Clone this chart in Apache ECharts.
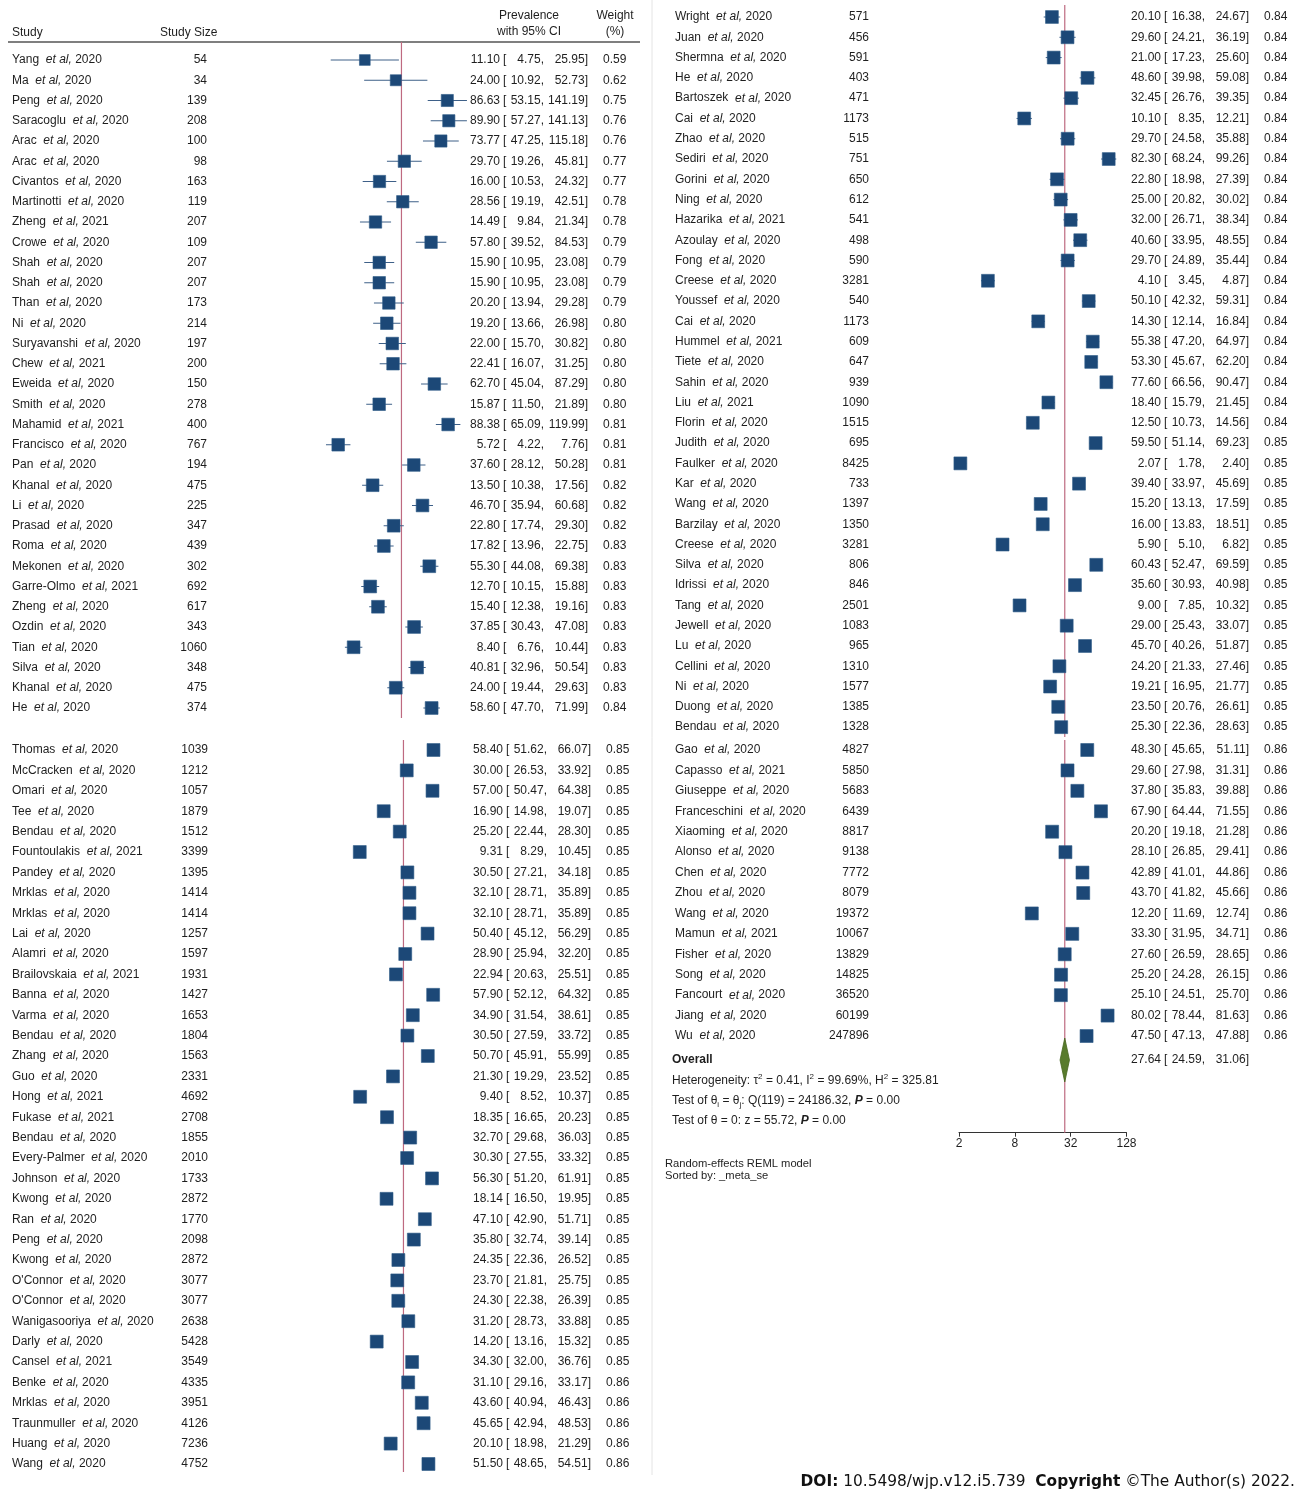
<!DOCTYPE html>
<html><head><meta charset="utf-8">
<script src="https://cdn.jsdelivr.net/npm/echarts@6/dist/echarts.min.js"></script>
<style>html,body{margin:0;padding:0;background:#fff}#c{width:1304px;height:1490px}</style>
</head><body><div id="c"></div>
<script>
// ---------------- DATA ----------------
const authors = [
 "Yang","Ma","Peng","Saracoglu","Arac","Arac","Civantos","Martinotti","Zheng","Crowe","Shah","Shah","Than","Ni","Suryavanshi","Chew","Eweida","Smith","Mahamid","Francisco","Pan","Khanal","Li","Prasad","Roma","Mekonen","Garre-Olmo","Zheng","Ozdin","Tian","Silva","Khanal","He",
 "Thomas","McCracken","Omari","Tee","Bendau","Fountoulakis","Pandey","Mrklas","Mrklas","Lai","Alamri","Brailovskaia","Banna","Varma","Bendau","Zhang","Guo","Hong","Fukase","Bendau","Every-Palmer","Johnson","Kwong","Ran","Peng","Kwong","O'Connor","O'Connor","Wanigasooriya","Darly","Cansel","Benke","Mrklas","Traunmuller","Huang","Wang",
 "Wright","Juan","Shermna","He","Bartoszek","Cai","Zhao","Sediri","Gorini","Ning","Hazarika","Azoulay","Fong","Creese","Youssef","Cai","Hummel","Tiete","Sahin","Liu","Florin","Judith","Faulker","Kar","Wang","Barzilay","Creese","Silva","Idrissi","Tang","Jewell","Lu","Cellini","Ni","Duong","Bendau",
 "Gao","Capasso","Giuseppe","Franceschini","Xiaoming","Alonso","Chen","Zhou","Wang","Mamun","Fisher","Song","Fancourt","Jiang","Wu"
];
const years = [
 2020,2020,2020,2020,2020,2020,2020,2020,2021,2020,2020,2020,2020,2020,2020,2021,2020,2020,2021,2020,2020,2020,2020,2020,2020,2020,2021,2020,2020,2020,2020,2020,2020,
 2020,2020,2020,2020,2020,2021,2020,2020,2020,2020,2020,2021,2020,2020,2020,2020,2020,2021,2021,2020,2020,2020,2020,2020,2020,2020,2020,2020,2020,2020,2021,2020,2020,2020,2020,2020,
 2020,2020,2020,2020,2020,2020,2020,2020,2020,2020,2021,2020,2020,2020,2020,2020,2021,2020,2020,2021,2020,2020,2020,2020,2020,2020,2020,2020,2020,2020,2020,2020,2020,2020,2020,2020,
 2020,2021,2020,2020,2020,2020,2020,2020,2020,2021,2020,2020,2020,2020,2020
];
const studySizes = [
 54,34,139,208,100,98,163,119,207,109,207,207,173,214,197,200,150,278,400,767,194,475,225,347,439,302,692,617,343,1060,348,475,374,
 1039,1212,1057,1879,1512,3399,1395,1414,1414,1257,1597,1931,1427,1653,1804,1563,2331,4692,2708,1855,2010,1733,2872,1770,2098,2872,3077,3077,2638,5428,3549,4335,3951,4126,7236,4752,
 571,456,591,403,471,1173,515,751,650,612,541,498,590,3281,540,1173,609,647,939,1090,1515,695,8425,733,1397,1350,3281,806,846,2501,1083,965,1310,1577,1385,1328,
 4827,5850,5683,6439,8817,9138,7772,8079,19372,10067,13829,14825,36520,60199,247896
];
const estimates = [
 11.10,24.00,86.63,89.90,73.77,29.70,16.00,28.56,14.49,57.80,15.90,15.90,20.20,19.20,22.00,22.41,62.70,15.87,88.38,5.72,37.60,13.50,46.70,22.80,17.82,55.30,12.70,15.40,37.85,8.40,40.81,24.00,58.60,
 58.40,30.00,57.00,16.90,25.20,9.31,30.50,32.10,32.10,50.40,28.90,22.94,57.90,34.90,30.50,50.70,21.30,9.40,18.35,32.70,30.30,56.30,18.14,47.10,35.80,24.35,23.70,24.30,31.20,14.20,34.30,31.10,43.60,45.65,20.10,51.50,
 20.10,29.60,21.00,48.60,32.45,10.10,29.70,82.30,22.80,25.00,32.00,40.60,29.70,4.10,50.10,14.30,55.38,53.30,77.60,18.40,12.50,59.50,2.07,39.40,15.20,16.00,5.90,60.43,35.60,9.00,29.00,45.70,24.20,19.21,23.50,25.30,
 48.30,29.60,37.80,67.90,20.20,28.10,42.89,43.70,12.20,33.30,27.60,25.20,25.10,80.02,47.50
];
const ciLow = [
 4.75,10.92,53.15,57.27,47.25,19.26,10.53,19.19,9.84,39.52,10.95,10.95,13.94,13.66,15.70,16.07,45.04,11.50,65.09,4.22,28.12,10.38,35.94,17.74,13.96,44.08,10.15,12.38,30.43,6.76,32.96,19.44,47.70,
 51.62,26.53,50.47,14.98,22.44,8.29,27.21,28.71,28.71,45.12,25.94,20.63,52.12,31.54,27.59,45.91,19.29,8.52,16.65,29.68,27.55,51.20,16.50,42.90,32.74,22.36,21.81,22.38,28.73,13.16,32.00,29.16,40.94,42.94,18.98,48.65,
 16.38,24.21,17.23,39.98,26.76,8.35,24.58,68.24,18.98,20.82,26.71,33.95,24.89,3.45,42.32,12.14,47.20,45.67,66.56,15.79,10.73,51.14,1.78,33.97,13.13,13.83,5.10,52.47,30.93,7.85,25.43,40.26,21.33,16.95,20.76,22.36,
 45.65,27.98,35.83,64.44,19.18,26.85,41.01,41.82,11.69,31.95,26.59,24.28,24.51,78.44,47.13
];
const ciHigh = [
 25.95,52.73,141.19,141.13,115.18,45.81,24.32,42.51,21.34,84.53,23.08,23.08,29.28,26.98,30.82,31.25,87.29,21.89,119.99,7.76,50.28,17.56,60.68,29.30,22.75,69.38,15.88,19.16,47.08,10.44,50.54,29.63,71.99,
 66.07,33.92,64.38,19.07,28.30,10.45,34.18,35.89,35.89,56.29,32.20,25.51,64.32,38.61,33.72,55.99,23.52,10.37,20.23,36.03,33.32,61.91,19.95,51.71,39.14,26.52,25.75,26.39,33.88,15.32,36.76,33.17,46.43,48.53,21.29,54.51,
 24.67,36.19,25.60,59.08,39.35,12.21,35.88,99.26,27.39,30.02,38.34,48.55,35.44,4.87,59.31,16.84,64.97,62.20,90.47,21.45,14.56,69.23,2.40,45.69,17.59,18.51,6.82,69.59,40.98,10.32,33.07,51.87,27.46,21.77,26.61,28.63,
 51.11,31.31,39.88,71.55,21.28,29.41,44.86,45.66,12.74,34.71,28.65,26.15,25.70,81.63,47.88
];
const weights = [
 0.59,0.62,0.75,0.76,0.76,0.77,0.77,0.78,0.78,0.79,0.79,0.79,0.79,0.80,0.80,0.80,0.80,0.80,0.81,0.81,0.81,0.82,0.82,0.82,0.83,0.83,0.83,0.83,0.83,0.83,0.83,0.83,0.84,
 0.85,0.85,0.85,0.85,0.85,0.85,0.85,0.85,0.85,0.85,0.85,0.85,0.85,0.85,0.85,0.85,0.85,0.85,0.85,0.85,0.85,0.85,0.85,0.85,0.85,0.85,0.85,0.85,0.85,0.85,0.85,0.86,0.86,0.86,0.86,0.86,
 0.84,0.84,0.84,0.84,0.84,0.84,0.84,0.84,0.84,0.84,0.84,0.84,0.84,0.84,0.84,0.84,0.84,0.84,0.84,0.84,0.84,0.85,0.85,0.85,0.85,0.85,0.85,0.85,0.85,0.85,0.85,0.85,0.85,0.85,0.85,0.85,
 0.86,0.86,0.86,0.86,0.86,0.86,0.86,0.86,0.86,0.86,0.86,0.86,0.86,0.86,0.86
];
const sectionCounts = [33, 36, 36, 15];
const overallEst = 27.64, overallLow = 24.59, overallHigh = 31.06;
const xTicks = [2, 8, 32, 128];

// ---------------- LAYOUT ----------------
const FONT = '"Liberation Sans", Arial, Helvetica, sans-serif';
const TXT = '#1e1e1e';
const NUM_FS = 12;
const layout = [
 {plotLeft:296, plotWidth:167, top:42,  bottom:718,    row0:60,  gap:20.25, nameX:12,  sizeX:207, estX:500,  brX:503,  lowX:544,  highX:588,  wX:603},
 {plotLeft:298, plotWidth:167, top:740, bottom:1472,   row0:750, gap:20.4,  nameX:12,  sizeX:208, estX:503,  brX:506,  lowX:547,  highX:591,  wX:606},
 {plotLeft:959, plotWidth:167.5, top:5, bottom:737,    row0:17,  gap:20.29, nameX:675, sizeX:869, estX:1161, brX:1164, lowX:1205, highX:1249, wX:1264},
 {plotLeft:959, plotWidth:167.5, top:740, bottom:1132.7, row0:750, gap:20.43, nameX:675, sizeX:869, estX:1161, brX:1164, lowX:1205, highX:1249, wX:1264}
];
const overallY = 1060;

const chart = echarts.init(document.getElementById('c'), null, {renderer:'canvas'});
const base = {fontFamily: FONT, fontSize: 12, fill: TXT, verticalAlign: 'middle'};
const numBase = {fontFamily: FONT, fontSize: NUM_FS, fill: TXT, verticalAlign: 'middle'};

function marks(params, api) {
  const c = api.coord([api.value(0), api.value(1)]);
  const l = api.coord([api.value(2), api.value(1)]);
  const h = api.coord([api.value(3), api.value(1)]);
  const side = 14 * Math.sqrt(api.value(4));
  return {type:'group', children:[
    {type:'line', shape:{x1:l[0], y1:c[1], x2:h[0], y2:c[1]}, style:{stroke:'#3e6088', lineWidth:1}},
    {type:'rect', shape:{x:c[0]-side/2, y:c[1]-side/2, width:side, height:side}, style:{fill:'#1c4877', stroke:'#2d5a87', lineWidth:0.6}}
  ]};
}
function esciTexts(L, y, e, lo, hi) {
  return [
    {type:'text', x:L.estX, y:y, style:Object.assign({}, numBase, {align:'right', text:e.toFixed(2)})},
    {type:'text', x:L.brX, y:y, style:Object.assign({}, numBase, {align:'left', text:'['})},
    {type:'text', x:L.lowX, y:y, style:Object.assign({}, numBase, {align:'right', text:lo.toFixed(2) + ','})},
    {type:'text', x:L.highX, y:y, style:Object.assign({}, numBase, {align:'right', text:hi.toFixed(2) + ']'})}
  ];
}
function texts(L) {
  return function(params, api) {
    const i = api.value(5);
    const y = api.coord([api.value(0), api.value(1)])[1];
    return {type:'group', children:[
      {type:'text', x:L.nameX, y:y, style:Object.assign({}, base, {align:'left',
        text:'{n|' + authors[i] + '  }{it|et al,}{n| ' + years[i] + '}',
        rich:{n:{fontFamily:FONT, fontSize:12, fill:TXT}, it:{fontFamily:FONT, fontSize:12, fontStyle:'italic', fill:TXT}}})},
      {type:'text', x:L.sizeX, y:y, style:Object.assign({}, base, {align:'right', text:String(studySizes[i])})}
    ].concat(esciTexts(L, y, estimates[i], ciLow[i], ciHigh[i])).concat([
      {type:'text', x:L.wX, y:y, style:Object.assign({}, numBase, {align:'left', text:weights[i].toFixed(2)})}
    ])};
  };
}

const grids = [], xAxes = [], yAxes = [], series = [];
let start = 0;
layout.forEach(function(L, s) {
  const n = sectionCounts[s];
  const yMin = (L.top - L.row0) / L.gap, yMax = (L.bottom - L.row0) / L.gap;
  grids.push({left:L.plotLeft, top:L.top, width:L.plotWidth, height:L.bottom - L.top});
  const showAx = (s === 3);
  xAxes.push({gridIndex:s, type:'log', logBase:2, min:2, max:128, show:showAx, position:'bottom',
    axisLine:{show:true, onZero:false, lineStyle:{color:'#333', width:1}},
    axisTick:{show:true, length:4, customValues:xTicks, lineStyle:{color:'#333'}},
    axisLabel:{show:true, customValues:xTicks, color:TXT, fontSize:12, fontFamily:FONT, margin:5,
      formatter:function(v){return String(Math.round(v));}},
    splitLine:{show:false}, minorTick:{show:false}});
  yAxes.push({gridIndex:s, type:'value', inverse:true, min:yMin, max:yMax, show:false, splitLine:{show:false}});
  const rows = [];
  for (let k = 0; k < n; k++) {
    const i = start + k;
    rows.push([estimates[i], k, ciLow[i], ciHigh[i], weights[i], i]);
  }
  series.push({type:'custom', xAxisIndex:s, yAxisIndex:s, z:1, silent:true, data:[[overallEst, yMin, yMax]],
    encode:{x:0, y:1},
    renderItem:function(p, api){
      const a = api.coord([api.value(0), api.value(1)]);
      const b = api.coord([api.value(0), api.value(2)]);
      return {type:'line', shape:{x1:a[0], y1:a[1], x2:b[0], y2:b[1]}, style:{stroke:'#be6a80', lineWidth:1.2}};
    }});
  series.push({type:'custom', xAxisIndex:s, yAxisIndex:s, z:3, silent:true, data:rows, encode:{x:0, y:1}, renderItem:marks});
  series.push({type:'custom', xAxisIndex:s, yAxisIndex:s, z:4, silent:true, data:rows, encode:{x:0, y:1}, renderItem:texts(L)});
  if (s === 3) {
    const oRow = (overallY - L.row0) / L.gap;
    series.push({type:'custom', xAxisIndex:s, yAxisIndex:s, z:5, silent:true,
      data:[[overallEst, oRow, overallLow, overallHigh]], encode:{x:0, y:1},
      renderItem:function(p, api){
        const c = api.coord([api.value(0), api.value(1)]);
        const l = api.coord([api.value(2), api.value(1)]);
        const h = api.coord([api.value(3), api.value(1)]);
        const hh = 22;
        return {type:'group', children:[
          {type:'polygon', shape:{points:[[l[0], c[1]], [c[0], c[1]-hh], [h[0], c[1]], [c[0], c[1]+hh]]},
            style:{fill:'#587b2c', stroke:'#46661f', lineWidth:0.8}},
          {type:'text', x:672, y:c[1], style:Object.assign({}, base, {align:'left', text:'Overall', fontWeight:'bold'})}
        ].concat(esciTexts(L, c[1], overallEst, overallLow, overallHigh))};
      }});
  }
  start += n;
});

function gtext(x, y, text, extra) {
  return {type:'text', x:x, y:y, silent:true, style:Object.assign({}, base, extra || {}, {text:text})};
}
const richStats = {
  n:{fontFamily:FONT, fontSize:12, fill:TXT, lineHeight:16},
  sup:{fontFamily:FONT, fontSize:8, fill:TXT, verticalAlign:'top', lineHeight:16},
  sub:{fontFamily:FONT, fontSize:8, fill:TXT, verticalAlign:'bottom', lineHeight:16},
  bi:{fontFamily:FONT, fontSize:12, fill:TXT, fontWeight:'bold', fontStyle:'italic', lineHeight:16}
};
const graphic = [
  {type:'line', silent:true, shape:{x1:652, y1:0, x2:652, y2:1475}, style:{stroke:'#e4e4e4', lineWidth:1}},
  {type:'line', silent:true, shape:{x1:8, y1:42, x2:640, y2:42}, style:{stroke:'#555', lineWidth:1.5}},
  gtext(12, 33, 'Study', {align:'left'}),
  gtext(160, 33, 'Study Size', {align:'left'}),
  gtext(529, 16, 'Prevalence', {align:'center'}),
  gtext(529, 32, 'with 95% CI', {align:'center'}),
  gtext(615, 16, 'Weight', {align:'center'}),
  gtext(615, 32, '(%)', {align:'center'}),
  gtext(672, 1081, '{n|Heterogeneity: τ}{sup|2}{n| = 0.41, I}{sup|2}{n| = 99.69%, H}{sup|2}{n| = 325.81}', {align:'left', rich:richStats}),
  gtext(672, 1101, '{n|Test of θ}{sub|i}{n| = θ}{sub|j}{n|: Q(119) = 24186.32, }{bi|P}{n| = 0.00}', {align:'left', rich:richStats}),
  gtext(672, 1121, '{n|Test of θ = 0: z = 55.72, }{bi|P}{n| = 0.00}', {align:'left', rich:richStats}),
  gtext(665, 1164, 'Random-effects REML model', {align:'left', fontSize:11.2}),
  gtext(665, 1176, 'Sorted by: _meta_se', {align:'left', fontSize:11.2}),
  gtext(1295, 1482, '{b|DOI:}{r| 10.5498/wjp.v12.i5.739  }{b|Copyright}{r| ©The Author(s) 2022.}', {align:'right',
    rich:{b:{fontFamily:'"DejaVu Sans", Verdana, sans-serif', fontSize:15.4, fontWeight:'bold', fill:'#111'},
          r:{fontFamily:'"DejaVu Sans", Verdana, sans-serif', fontSize:15.4, fill:'#111'}}})
];

chart.setOption({
  animation:false,
  backgroundColor:'#fff',
  grid:grids, xAxis:xAxes, yAxis:yAxes, series:series, graphic:graphic
});
</script></body></html>
